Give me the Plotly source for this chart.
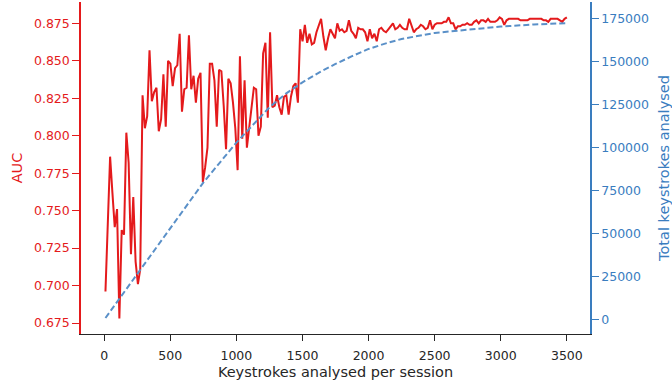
import numpy as np
import plotly.graph_objects as go

# Keystrokes analysed per session (evenly spaced evaluation grid)
keystrokes = np.linspace(10, 3500, 200)

auc = [
    0.696, 0.741, 0.786, 0.762, 0.739, 0.751, 0.678, 0.737, 0.734, 0.802,
    0.782, 0.721, 0.759, 0.716, 0.701, 0.711, 0.827, 0.805, 0.813, 0.857,
    0.823, 0.829, 0.832, 0.803, 0.811, 0.841, 0.806, 0.850, 0.848, 0.833,
    0.845, 0.847, 0.868, 0.816, 0.831, 0.832, 0.867, 0.831, 0.840, 0.822,
    0.838, 0.842, 0.769, 0.779, 0.792, 0.848, 0.848, 0.837, 0.806, 0.844,
    0.843, 0.820, 0.791, 0.838, 0.835, 0.822, 0.805, 0.777, 0.853, 0.798,
    0.837, 0.792, 0.806, 0.820, 0.832, 0.831, 0.800, 0.806, 0.855, 0.862,
    0.812, 0.869, 0.819, 0.820, 0.827, 0.819, 0.814, 0.826, 0.827, 0.814,
    0.826, 0.833, 0.835, 0.822, 0.871, 0.863, 0.874, 0.862, 0.868, 0.861,
    0.862, 0.869, 0.874, 0.878, 0.866, 0.857, 0.865, 0.871, 0.868, 0.865,
    0.875, 0.870, 0.871, 0.869, 0.870, 0.877, 0.870, 0.868, 0.865, 0.872,
    0.871, 0.871, 0.869, 0.863, 0.871, 0.865, 0.868, 0.863, 0.871, 0.872,
    0.870, 0.869, 0.871, 0.873, 0.875, 0.871, 0.872, 0.874, 0.872, 0.871,
    0.871, 0.878, 0.874, 0.869, 0.871, 0.872, 0.874, 0.873, 0.871, 0.872,
    0.877, 0.871, 0.874, 0.875, 0.875, 0.875, 0.876, 0.876, 0.879, 0.875,
    0.875, 0.871, 0.873, 0.873, 0.874, 0.874, 0.875, 0.874, 0.874, 0.876,
    0.877, 0.875, 0.877, 0.877, 0.876, 0.878, 0.876, 0.876, 0.876, 0.877,
    0.879, 0.878, 0.874, 0.877, 0.878, 0.878, 0.878, 0.878, 0.878, 0.877,
    0.877, 0.877, 0.877, 0.878, 0.878, 0.878, 0.878, 0.878, 0.878, 0.877,
    0.877, 0.876, 0.878, 0.878, 0.878, 0.878, 0.877, 0.876, 0.878, 0.879,
]

total_x = [10, 250, 500, 750, 1000, 1125, 1250, 1375, 1500, 1625, 1750,
           1875, 2000, 2125, 2250, 2500, 2750, 3000, 3250, 3500]
total_keystrokes = [1000, 26500, 53000, 79600, 102800, 113000, 123300, 131300,
                    137800, 143500, 148500, 153000, 157200, 160300, 163000,
                    166500, 168300, 170200, 171400, 172200]

x_ticks = [0, 500, 1000, 1500, 2000, 2500, 3000, 3500]

RED = "#e41a1c"
BLUE = "#3a7dbf"
DASH_BLUE = "#5a90c8"
DARK = "#262626"
FONT = "DejaVu Sans"

fig = go.Figure()
fig.add_trace(go.Scatter(x=keystrokes, y=auc, mode="lines",
                         line=dict(color=RED, width=2), name="AUC"))
fig.add_trace(go.Scatter(x=total_x, y=total_keystrokes, mode="lines", yaxis="y2",
                         line=dict(color=DASH_BLUE, width=2, dash="6px,3px"),
                         name="Total keystrokes"))

fig.update_layout(
    width=672, height=383,
    margin=dict(l=81, r=82, t=2, b=49, autoexpand=False),
    paper_bgcolor="white", plot_bgcolor="white",
    showlegend=False,
    font=dict(family=FONT, size=12.5, color=DARK),
    xaxis=dict(
        range=[-175, 3675], tickvals=x_ticks, ticks="outside", ticklen=6, tickwidth=1.3,
        tickcolor=DARK, showline=True, linecolor=DARK, linewidth=1.3, showgrid=False,
        zeroline=False, tickfont=dict(size=12.5, color=DARK), ticklabelstandoff=4,
        automargin=False,
        title=dict(text="Keystrokes analysed per session", font=dict(size=14.5, color=DARK),
                   standoff=4),
    ),
    yaxis=dict(
        range=[0.6677, 0.8892], dtick=0.025, tick0=0.675, tickformat=".3f",
        ticks="outside", ticklen=7, tickwidth=1.3, tickcolor=RED,
        showline=True, linecolor=RED, linewidth=1.5, showgrid=False, zeroline=False,
        tickfont=dict(size=12.5, color=RED), automargin=False,
        title=dict(text="AUC", font=dict(size=14.5, color=RED), standoff=8),
    ),
    yaxis2=dict(
        overlaying="y", side="right",
        range=[-8300, 184460], dtick=25000, tick0=0, tickformat="d",
        ticks="outside", ticklen=7, tickwidth=1.3, tickcolor=BLUE,
        showline=True, linecolor=BLUE, linewidth=1.5, showgrid=False, zeroline=False,
        tickfont=dict(size=12.5, color=BLUE), automargin=False,
        title=dict(text="Total keystrokes analysed", font=dict(size=14.5, color=BLUE),
                   standoff=14),
    ),
)

fig.write_html("out.html", config={"displayModeBar": False},
               post_script="document.body.style.margin='0px';")
